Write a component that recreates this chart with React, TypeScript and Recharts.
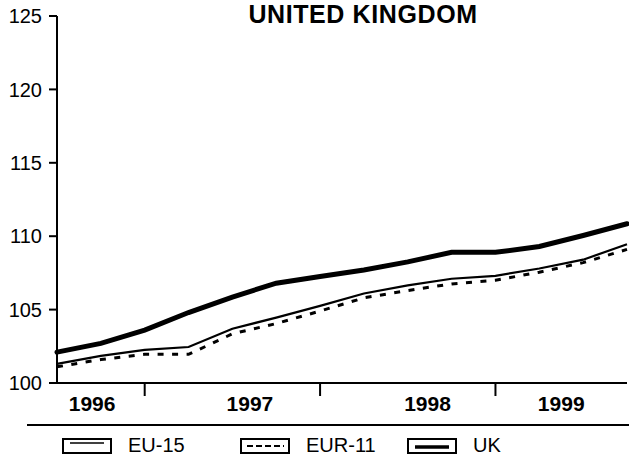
import React from 'react';
import { LineChart, Line, XAxis, YAxis, Legend } from 'recharts';

// quarterly index, mid-1996 .. late 1999
const quarters = [0, 1, 2, 3, 4, 5, 6, 7, 8, 9, 10, 11, 12, 13];
const eu15 = [101.3, 101.85, 102.25, 102.45, 103.7, 104.45, 105.25, 106.1, 106.65, 107.1, 107.3, 107.8, 108.4, 109.45];
const eur11 = [101.1, 101.6, 101.95, 101.95, 103.35, 104.05, 104.9, 105.8, 106.3, 106.75, 107.0, 107.55, 108.2, 109.1];
const uk = [102.1, 102.7, 103.6, 104.8, 105.85, 106.8, 107.25, 107.7, 108.25, 108.9, 108.9, 109.3, 110.05, 110.85];

const yTicks = [100, 105, 110, 115, 120, 125];
const yearBreaks = [2, 6, 10];
const yearLabels = ['1996', '1997', '1998', '1999'];
const yearLabelAt = [0.8, 4.4, 8.45, 11.5];

const FONT = '"Liberation Sans", Arial, sans-serif';

const data = quarters.map((q, i) => ({ q, eu15: eu15[i], eur11: eur11[i], uk: uk[i] }));
const xTicks = [...yearBreaks, ...yearLabelAt].sort((a, b) => a - b);

const YearTick = (props: any) => {
  const { x, y, payload } = props;
  const v = payload.value;
  if (yearBreaks.includes(v)) {
    return <line x1={x} x2={x} y1={y} y2={y + 13} stroke="#000" strokeWidth={2} />;
  }
  const idx = yearLabelAt.indexOf(v);
  return (
    <text x={x} y={y + 28} textAnchor="middle" fontSize={21} fontWeight="bold" fontFamily={FONT} fill="#000">
      {yearLabels[idx]}
    </text>
  );
};

const LegendIcon = ({ kind }: { kind: string }) => (
  <svg width={50} height={16} style={{ position: 'absolute', left: 0, top: 0 }}>
    <rect x={1} y={1} width={48} height={14} fill="none" stroke="#000" strokeWidth={2} />
    {kind === 'eu15' && <line x1={8} x2={42} y1={5} y2={5} stroke="#000" strokeWidth={1.5} />}
    {kind === 'eur11' && <line x1={7} x2={44} y1={8} y2={8} stroke="#000" strokeWidth={2} strokeDasharray="6 3" />}
    {kind === 'uk' && <line x1={8} x2={42} y1={9} y2={9} stroke="#000" strokeWidth={3.5} />}
  </svg>
);

const legendItems = [
  { key: 'eu15', label: 'EU-15', left: 35 },
  { key: 'eur11', label: 'EUR-11', left: 213 },
  { key: 'uk', label: 'UK', left: 380 },
];

const renderLegend = () => (
  <div style={{ marginLeft: 27, width: 602, height: 35, borderTop: '2px solid #000', position: 'relative', fontFamily: FONT }}>
    {legendItems.map(it => (
      <div key={it.key} style={{ position: 'absolute', left: it.left, top: 12, height: 16 }}>
        <LegendIcon kind={it.key} />
        <span style={{ position: 'absolute', left: 66, top: -4, fontSize: 20, whiteSpace: 'nowrap', color: '#000' }}>{it.label}</span>
      </div>
    ))}
  </div>
);

export default function App() {
  return (
    <div style={{ position: 'absolute', left: 0, top: 0, width: 629, height: 461, background: '#fff' }}>
      <LineChart width={629} height={461} data={data} margin={{ top: 16, right: 2, bottom: 0, left: 0 }}>
        <XAxis
          dataKey="q"
          type="number"
          domain={[0, 13]}
          ticks={xTicks}
          interval={0}
          tick={<YearTick />}
          tickLine={false}
          tickSize={0}
          tickMargin={0}
          height={41}
          axisLine={{ stroke: '#000', strokeWidth: 2 }}
        />
        <YAxis
          domain={[100, 125]}
          ticks={yTicks}
          interval={0}
          width={57}
          tickSize={8}
          tickMargin={7}
          axisLine={{ stroke: '#000', strokeWidth: 2 }}
          tickLine={{ stroke: '#000', strokeWidth: 2 }}
          tick={{ fill: '#000', fontSize: 20, fontFamily: FONT }}
        />
        <Line dataKey="eu15" type="linear" stroke="#000" strokeWidth={2.2} dot={false} activeDot={false} isAnimationActive={false} />
        <Line dataKey="eur11" type="linear" stroke="#000" strokeWidth={3} strokeDasharray="6 8.5" dot={false} activeDot={false} isAnimationActive={false} />
        <Line dataKey="uk" type="linear" stroke="#000" strokeWidth={5} strokeLinecap="round" dot={false} activeDot={false} isAnimationActive={false} />
        <Legend verticalAlign="bottom" content={renderLegend} />
      </LineChart>
      <div style={{ position: 'absolute', left: 0, width: 726, top: 0, textAlign: 'center', fontFamily: FONT, fontWeight: 'bold', fontSize: 25, letterSpacing: 0.6, lineHeight: 'normal' }}>
        UNITED KINGDOM
      </div>
    </div>
  );
}
